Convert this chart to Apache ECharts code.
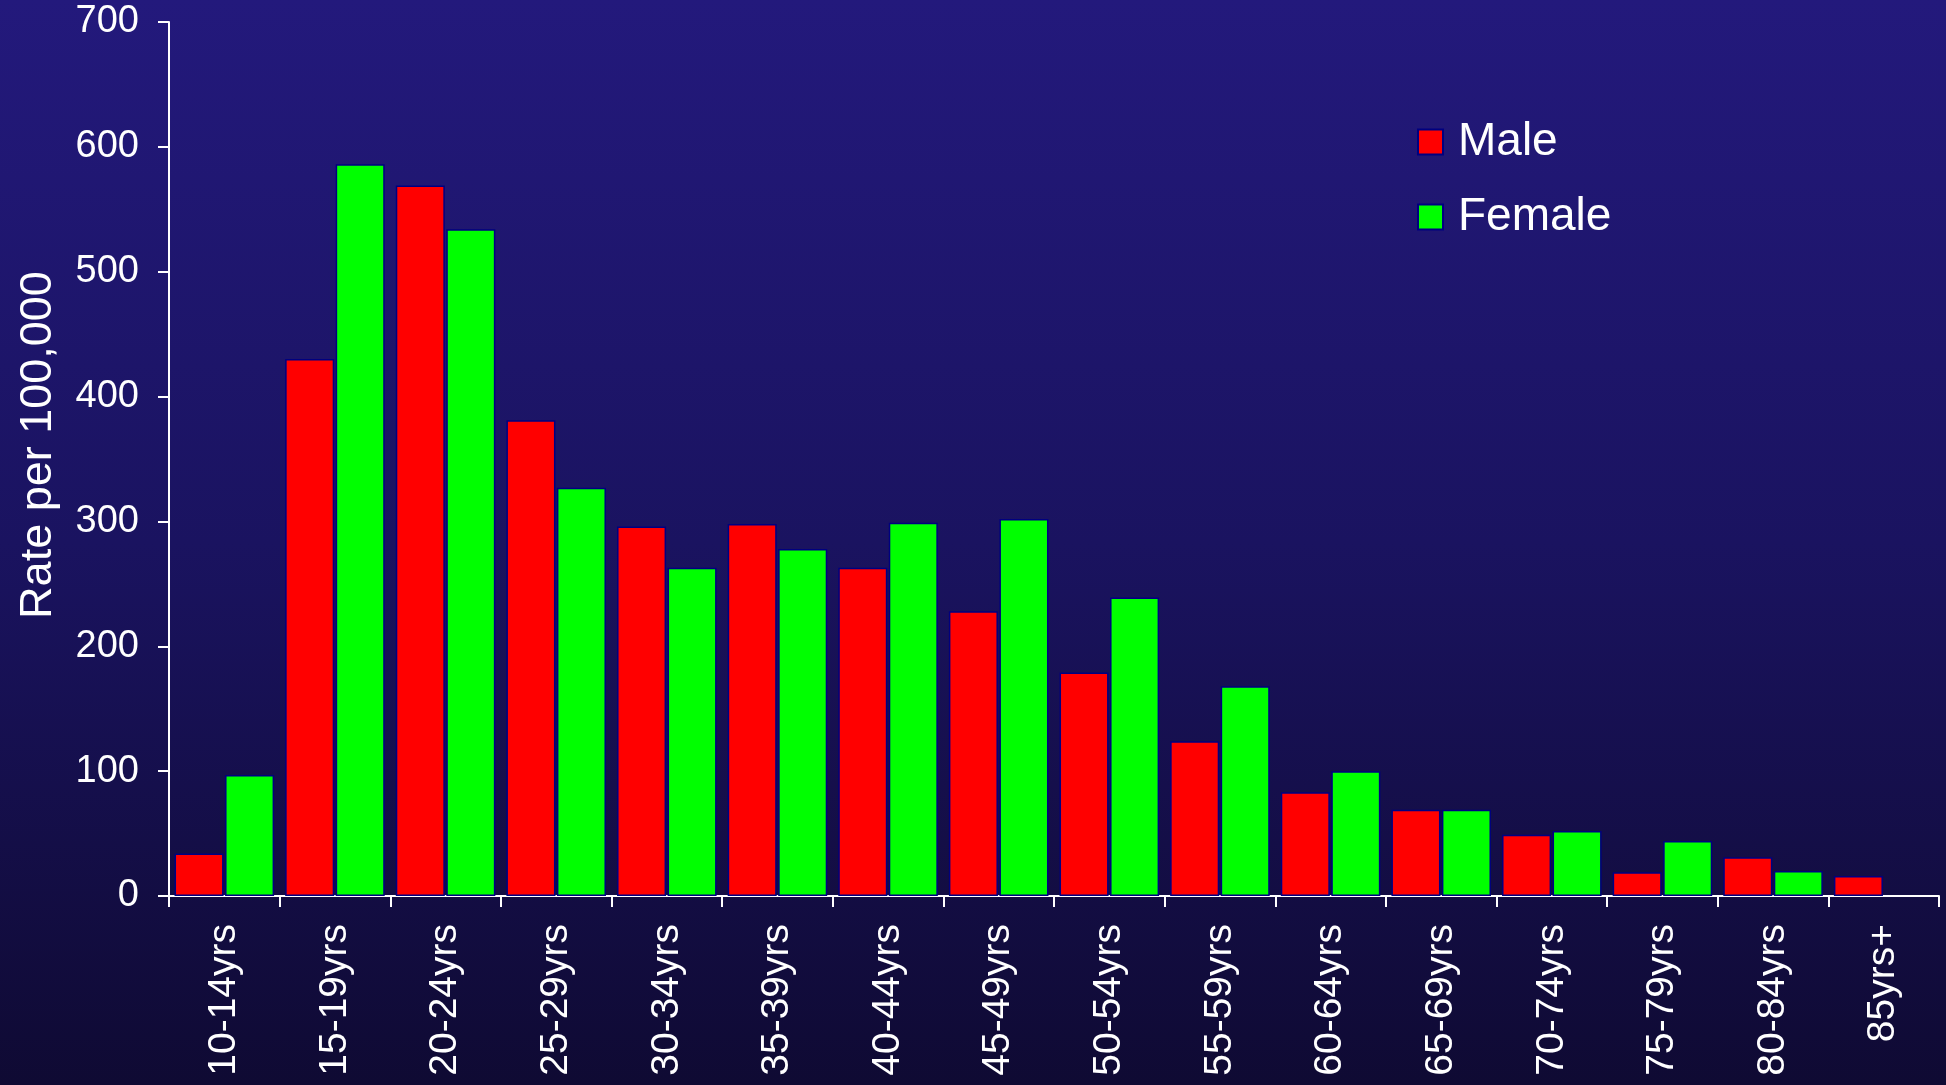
<!DOCTYPE html>
<html>
<head>
<meta charset="utf-8">
<script src="https://cdn.jsdelivr.net/npm/echarts@6/dist/echarts.min.js"></script>
<style>
  html, body { margin: 0; padding: 0; }
  #chart { width: 1946px; height: 1085px; }
</style>
</head>
<body>
<div id="chart"></div>
<script>
// age groups
const ageGroups = ['10-14yrs', '15-19yrs', '20-24yrs', '25-29yrs', '30-34yrs', '35-39yrs',
  '40-44yrs', '45-49yrs', '50-54yrs', '55-59yrs', '60-64yrs', '65-69yrs',
  '70-74yrs', '75-79yrs', '80-84yrs', '85yrs+'];

// rate per 100,000
const maleRates = [34, 430, 569, 381, 296, 298, 263, 228, 179, 124, 83, 69, 49, 19, 31, 16];
const femaleRates = [97, 586, 534, 327, 263, 278, 299, 302, 239, 168, 100, 69, 52, 44, 20, null];

const yTicks = [0, 100, 200, 300, 400, 500, 600, 700];

const font = 'Arial, "Liberation Sans", sans-serif';
const white = '#ffffff';

let myChart = echarts.init(document.getElementById('chart'));
let option = {
  backgroundColor: {
    type: 'linear', x: 0, y: 0, x2: 0, y2: 1,
    colorStops: [
      {offset: 0, color: '#23197c'},
      {offset: 0.5, color: '#1a1360'},
      {offset: 1, color: '#0f0a33'}
    ]
  },
  animation: false,
  legend: {
    orient: 'vertical',
    left: 1412,
    top: 112,
    itemWidth: 25,
    itemHeight: 25,
    itemGap: 25,
    icon: 'rect',
    textStyle: {
      color: white,
      fontSize: 46,
      fontFamily: font,
      lineHeight: 50,
      padding: [0, 0, 0, 10]
    },
    data: ['Male', 'Female']
  },
  grid: {
    left: 169,
    right: 7,
    top: 22,
    bottom: 189
  },
  xAxis: {
    type: 'category',
    data: ageGroups,
    axisLine: {lineStyle: {color: white, width: 2}},
    axisTick: {show: true, length: 11, lineStyle: {color: white, width: 2}},
    axisLabel: {
      rotate: 90,
      interval: 0,
      margin: 28,
      color: white,
      fontSize: 39,
      fontFamily: font
    },
    splitLine: {show: false}
  },
  yAxis: {
    type: 'value',
    min: yTicks[0],
    max: yTicks[yTicks.length - 1],
    interval: 100,
    name: 'Rate per 100,000',
    nameLocation: 'middle',
    nameRotate: 90,
    nameGap: 108,
    nameTextStyle: {color: white, fontSize: 45, fontFamily: font, padding: [0, 0, 0, 28]},
    axisLine: {show: true, lineStyle: {color: white, width: 2}},
    axisTick: {show: true, length: 11, lineStyle: {color: white, width: 2}},
    axisLabel: {
      margin: 30,
      color: white,
      fontSize: 38,
      fontFamily: font
    },
    splitLine: {show: false}
  },
  series: [{
    name: 'Male',
    type: 'bar',
    data: maleRates,
    barGap: '3%',
    barCategoryGap: '10%',
    itemStyle: {color: '#ff0000', borderColor: '#000080', borderWidth: 1.5}
  }, {
    name: 'Female',
    type: 'bar',
    data: femaleRates,
    barGap: '3%',
    barCategoryGap: '10%',
    itemStyle: {color: '#00ff00', borderColor: '#000080', borderWidth: 1.5}
  }]
};
myChart.setOption(option);
</script>
</body>
</html>
